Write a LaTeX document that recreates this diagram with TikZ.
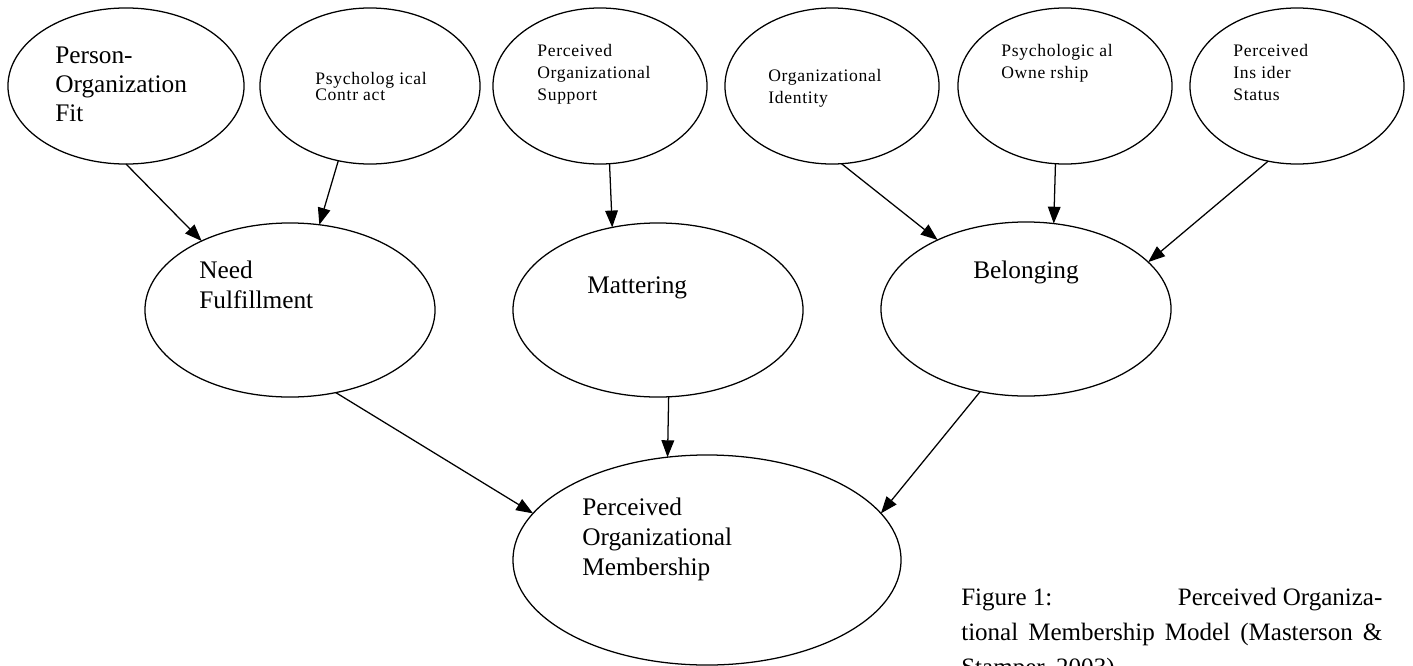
\documentclass[tikz,border=0pt]{standalone}
\usepackage{fontspec}
\setmainfont{Liberation Serif}
\newfontfamily\spacedserif[LetterSpace=4]{Liberation Serif}
\newcommand\tightlines{\lineskiplimit-20pt\relax}
\usetikzlibrary{shapes.geometric, arrows.meta}

\begin{document}
\begin{tikzpicture}[x=0.025cm, y=-0.025cm,
    oval/.style={draw, ellipse, line width=0.9pt, inner sep=0pt, outer sep=0pt},
    topoval/.style={oval, minimum width=5.35cm, minimum height=3.9cm},
    midoval/.style={oval, minimum width=7.25cm, minimum height=4.35cm},
    big/.style={anchor=base west, align=left, inner sep=0pt, font=\fontsize{18}{20.4}\selectfont},
    small/.style={anchor=base west, align=left, inner sep=0pt, font=\spacedserif\fontsize{12.5}{15.3}\selectfont},
    link/.style={-{Triangle[length=12pt, width=9pt]}, line width=0.9pt}]
  \useasboundingbox (0,0) rectangle (1413,665);
  % antecedents (text nodes sit on the baseline of their last line)
  \node[oval, minimum width=5.9cm, minimum height=3.9cm] (pofit) at (126,86) {};
  \node[oval, minimum width=5.5cm, minimum height=3.9cm] (pcontract) at (370,86) {};
  \node[topoval] (psupport) at (600,86) {};
  \node[topoval] (oidentity) at (832,86) {};
  \node[topoval] (pownership) at (1065,86) {};
  \node[topoval] (pinsider) at (1297,86) {};
  \node[big] (pofit text) at (55,121) {Person-\\Organization\\Fit};
  \node[small, font=\spacedserif\fontsize{12.5}{10.7}\selectfont\tightlines] (pcontract text) at (315,100) {Psycholog ical\\Contr act};
  \node[small] (psupport text) at (537,100) {Perceived\\Organizational\\Support};
  \node[small] (oidentity text) at (768,103) {Organizational\\Identity};
  \node[small] (pownership text) at (1001,78) {Psychologic al\\Owne rship};
  \node[small] (pinsider text) at (1233,100) {Perceived\\Ins ider\\Status};
  % mediators
  \node[midoval] (need) at (290,310) {};
  \node[midoval] (mattering) at (658,310) {};
  \node[midoval] (belonging) at (1026,309) {};
  \node[big, font=\fontsize{18}{21.3}\selectfont] (need text) at (199,308) {Need\\Fulfillment};
  \node[big] (mattering text) at (587,293) {Mattering};
  \node[big] (belonging text) at (973,278) {Belonging};
  % outcome
  \node[oval, minimum width=9.7cm, minimum height=5.25cm] (pom) at (707,560) {};
  \node[big, font=\fontsize{18}{21.3}\selectfont] (pom text) at (582,575) {Perceived\\Organizational\\Membership};
  \node[anchor=base west, inner sep=0pt, text width=10.525cm, align=justify,
        font=\fontsize{17.8}{24.9}\selectfont] (caption) at (961,605)
        {Figure 1:\hfill Perceived Organiza-\linebreak tional Membership Model (Masterson \&\linebreak Stamper, 2003)};
  % links
  \draw[link] (pofit.south) -- (need.142);
  \draw[link] (pcontract.-113) -- (need.71);
  \draw[link] (psupport.-83) -- (mattering.119);
  \draw[link] (oidentity.-83) -- (belonging.142);
  \draw[link] (pownership.-97) -- (belonging.72);
  \draw[link] (pinsider.-111) -- (belonging.21);
  \draw[link] (need.-61) -- (pom.165);
  \draw[link] (mattering.-83) -- (pom.111);
  \draw[link] (belonging.-119) -- (pom.15);
\end{tikzpicture}
\end{document}
